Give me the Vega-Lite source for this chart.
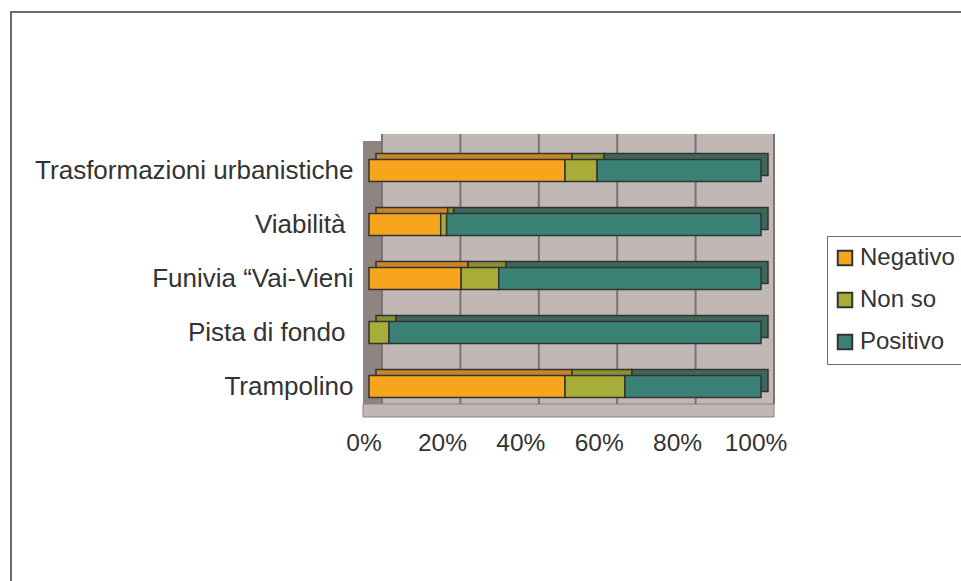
{
  "$schema": "https://vega.github.io/schema/vega-lite/v6.json",
  "autosize": "none",
  "width": 960,
  "height": 580,
  "padding": {"left": 11, "top": 12, "right": -10, "bottom": -11},
  "background": "white",
  "config": {
    "view": {"stroke": "#6b6b6b", "strokeWidth": 2, "fill": "white"},
    "font": "Liberation Sans",
    "legend": {
      "orient": "none",
      "legendX": 816,
      "legendY": 224,
      "padding": 10,
      "strokeColor": "#6b6b6b",
      "fillColor": "white",
      "symbolType": "square",
      "symbolSize": 210,
      "symbolStrokeWidth": 2,
      "symbolStrokeColor": "#333333",
      "symbolOpacity": 1,
      "symbolOffset": -4,
      "labelFont": "Liberation Sans",
      "labelFontSize": 24,
      "labelColor": "#333333",
      "labelOffset": 3,
      "rowPadding": 18,
      "title": null
    }
  },
  "datasets": {
    "main": [
      {"cat": "Trasformazioni urbanistiche", "series": "Negativo", "pct": 50.0},
      {"cat": "Trasformazioni urbanistiche", "series": "Non so", "pct": 8.2},
      {"cat": "Trasformazioni urbanistiche", "series": "Positivo", "pct": 41.8},
      {"cat": "Viabilità", "series": "Negativo", "pct": 18.3},
      {"cat": "Viabilità", "series": "Non so", "pct": 1.5},
      {"cat": "Viabilità", "series": "Positivo", "pct": 80.2},
      {"cat": "Funivia “Vai-Vieni", "series": "Negativo", "pct": 23.5},
      {"cat": "Funivia “Vai-Vieni", "series": "Non so", "pct": 9.6},
      {"cat": "Funivia “Vai-Vieni", "series": "Positivo", "pct": 66.9},
      {"cat": "Pista di fondo", "series": "Non so", "pct": 5.1},
      {"cat": "Pista di fondo", "series": "Positivo", "pct": 94.9},
      {"cat": "Trampolino", "series": "Negativo", "pct": 50.0},
      {"cat": "Trampolino", "series": "Non so", "pct": 15.3},
      {"cat": "Trampolino", "series": "Positivo", "pct": 34.7}
    ],
    "grid": [{"v": 0}, {"v": 0.2}, {"v": 0.4}, {"v": 0.6}, {"v": 0.8}, {"v": 1}]
  },
  "resolve": {"scale": {"color": "independent"}},
  "layer": [
    {
      "data": {"name": "main"},
      "transform": [{"filter": "datum.series == 'Positivo'"}],
      "mark": {"type": "rect", "fill": "#c1b8b5", "xOffset": 13, "x2Offset": 13},
      "encoding": {
        "x": {"datum": 0, "type": "quantitative", "scale": {"domain": [0, 1], "range": [358, 750], "nice": false, "zero": true}},
        "x2": {"datum": 1},
        "y": {
          "field": "cat", "type": "nominal",
          "sort": ["Trasformazioni urbanistiche", "Viabilità", "Funivia “Vai-Vieni", "Pista di fondo", "Trampolino"],
          "scale": {"domain": ["Trasformazioni urbanistiche", "Viabilità", "Funivia “Vai-Vieni", "Pista di fondo", "Trampolino"], "range": [122, 392], "paddingInner": 0, "paddingOuter": 0},
          "axis": {
            "title": null, "orient": "left", "offset": -342, "domain": false, "ticks": false, "tickSize": 0,
            "labelPadding": {"condition": {"test": "datum.value[0] == 'V' || datum.value[0] == 'P'", "value": 8}, "value": 0},
            "labelFontSize": 26, "labelFont": "Liberation Sans", "labelColor": "#333333",
            "labelAlign": "right", "labelBaseline": "middle", "labelOffset": 10, "labelLimit": 0, "grid": false
          }
        }
      }
    },
    {
      "data": {"name": "main"},
      "transform": [{"filter": "datum.series == 'Positivo'"}],
      "mark": {"type": "rect", "fill": "#8f8480", "xOffset": -6, "x2Offset": 13, "yOffset": 7, "y2Offset": 7},
      "encoding": {
        "x": {"datum": 0, "type": "quantitative"},
        "x2": {"datum": 0},
        "y": {"field": "cat", "type": "nominal"}
      }
    },
    {
      "data": {"name": "main"},
      "transform": [{"filter": "datum.series == 'Positivo' && datum.cat == 'Trampolino'"}],
      "mark": {"type": "bar", "fill": "#c1b8b5", "stroke": "#8a8280", "strokeWidth": 1, "xOffset": -6, "x2Offset": 13, "height": 13, "yOffset": 33.5},
      "encoding": {
        "x": {"datum": 0, "type": "quantitative"},
        "x2": {"datum": 1},
        "y": {"field": "cat", "type": "nominal"}
      }
    },
    {
      "data": {"name": "grid"},
      "mark": {"type": "rule", "color": "#7a7472", "strokeWidth": 2, "xOffset": 13},
      "encoding": {
        "x": {"field": "v", "type": "quantitative"},
        "y": {"datum": "Trasformazioni urbanistiche", "type": "nominal", "bandPosition": 0},
        "y2": {"datum": "Trampolino", "bandPosition": 1}
      }
    },
    {
      "data": {"name": "main"},
      "mark": {"type": "bar", "height": {"band": 0.41}, "xOffset": 7, "x2Offset": 7, "yOffset": 3.5, "stroke": "#333333", "strokeWidth": 1.5},
      "encoding": {
        "x": {"field": "pct", "type": "quantitative", "stack": "normalize"},
        "y": {"field": "cat", "type": "nominal"},
        "color": {"field": "series", "type": "nominal", "scale": {"domain": ["Negativo", "Non so", "Positivo"], "range": ["#c8862a", "#8c9035", "#3e665b"]}, "legend": null}
      }
    },
    {
      "data": {"name": "main"},
      "mark": {"type": "bar", "height": {"band": 0.41}, "yOffset": 9.5, "stroke": "#333333", "strokeWidth": 1.5},
      "encoding": {
        "x": {
          "field": "pct", "type": "quantitative", "stack": "normalize",
          "axis": {
            "title": null, "orient": "bottom", "offset": -175, "domain": false, "ticks": false, "tickSize": 0, "grid": false,
            "values": [0, 0.2, 0.4, 0.6, 0.8, 1], "format": ".0%", "labelFlush": false, "labelOverlap": false,
            "labelPadding": 14, "labelOffset": -5.5, "labelFontSize": 24.5, "labelFont": "Liberation Sans", "labelColor": "#333333"
          }
        },
        "y": {"field": "cat", "type": "nominal"},
        "color": {"field": "series", "type": "nominal", "scale": {"domain": ["Negativo", "Non so", "Positivo"], "range": ["#f7a51d", "#a8ad38", "#3a8276"]}}
      }
    }
  ]
}
